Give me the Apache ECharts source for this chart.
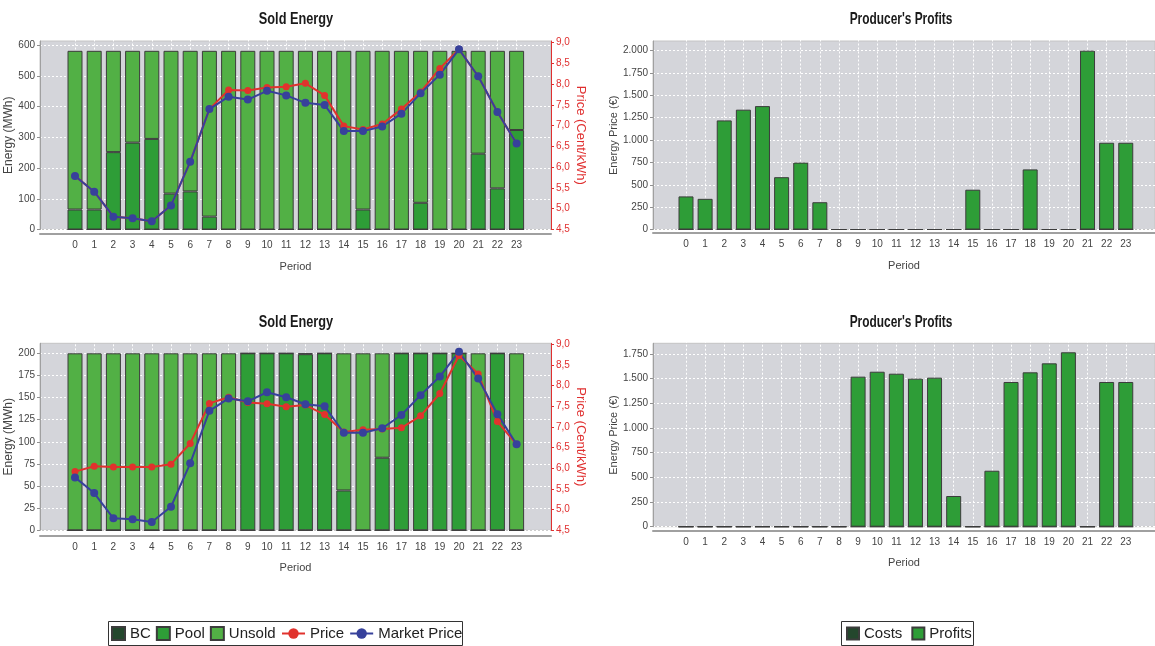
<!DOCTYPE html>
<html>
<head>
<meta charset="utf-8">
<script src="https://cdn.jsdelivr.net/npm/echarts@6/dist/echarts.min.js"></script>
<style>
html,body{margin:0;padding:0;background:#fff;}
#chart{width:1155px;height:646px;}
</style>
</head>
<body>
<div id="chart"></div>
<script>
// ---- Data ----
const periods = ['0','1','2','3','4','5','6','7','8','9','10','11','12','13','14','15','16','17','18','19','20','21','22','23'];

// Top-left "Sold Energy" (MWh)
const soldTopBC     = [0,0,0,0,0,0,0,0,0,0,0,0,0,0,0,0,0,0,0,0,0,0,0,0];
const soldTopPool   = [65,65,252,283,295,117,124,42,0,0,0,0,0,0,0,65,0,0,87,0,0,247,134,324];
const soldTopUnsold = [517,517,330,299,287,465,458,540,582,582,582,582,582,582,582,517,582,582,495,582,582,335,448,258];
const priceTop       = [5.79,5.41,4.81,4.77,4.70,5.08,6.13,7.40,7.86,7.85,7.92,7.94,8.02,7.73,6.99,6.91,7.04,7.40,7.81,8.38,8.84,8.19,7.33,6.57];
const marketPriceTop = [5.79,5.41,4.81,4.77,4.70,5.08,6.13,7.40,7.70,7.63,7.84,7.73,7.55,7.50,6.87,6.87,6.98,7.29,7.78,8.23,8.84,8.19,7.33,6.57];

// Bottom-left "Sold Energy" (MWh)
const soldBotBC     = [0,0,0,0,0,0,0,0,0,0,0,0,0,0,0,0,0,0,0,0,0,0,0,0];
const soldBotPool   = [0,0,0,0,0,0,0,0,0,200,200,200,199,200,45,0,82,200,200,200,200,0,200,0];
const soldBotUnsold = [200,200,200,200,200,200,200,200,200,0,0,0,1,0,155,200,118,0,0,0,0,200,0,200];
const priceBot       = [5.92,6.05,6.03,6.03,6.03,6.10,6.60,7.57,7.72,7.59,7.56,7.49,7.53,7.30,6.88,6.93,6.95,6.98,7.27,7.81,8.73,8.28,7.13,6.58];
const marketPriceBot = [5.78,5.40,4.79,4.77,4.70,5.07,6.12,7.39,7.69,7.62,7.84,7.72,7.55,7.50,6.86,6.86,6.97,7.29,7.77,8.22,8.82,8.17,7.31,6.58];

// Right "Producer's Profits" (€)
const costsTop   = [0,0,0,0,0,0,0,0,0,0,0,0,0,0,0,0,0,0,0,0,0,0,0,0];
const profitsTop = [370,343,1220,1340,1380,585,748,305,0,0,0,0,0,0,0,445,0,0,672,0,0,2000,970,970];
const costsBot   = [0,0,0,0,0,0,0,0,0,0,0,0,0,0,0,0,0,0,0,0,0,0,0,0];
const profitsBot = [0,0,0,0,0,0,0,0,0,1520,1570,1550,1500,1510,311,0,567,1466,1564,1655,1767,0,1466,1466];

// ---- Styling ----
const FONT = "'Liberation Sans',Arial,Helvetica,sans-serif";
const PLOT_BG = '#d4d5da';
const C_BC = '#24472d', C_POOL = '#2e9d37', C_UNSOLD = '#52b045';
const C_RED = '#e1322d', C_BLUE = '#37419b';
const RED_AXIS = '#e03030';

const commaFmt = v => v.toFixed(1).replace('.', ',');
const dotThousands = v => String(Math.round(v)).replace(/\B(?=(\d{3})+(?!\d))/g, '.');

// panels: plot rectangle + first category centre + category spacing
const panels = [
  {L: 40,  R: 551,  T: 41,    H: 188.5, c0: 75,  band: 19.2,  off: 4},
  {L: 653, R: 1155, T: 41,    H: 188.5, c0: 686, band: 19.12, off: 3},
  {L: 40,  R: 551,  T: 343.3, H: 187,   c0: 75,  band: 19.2,  off: 5},
  {L: 653, R: 1155, T: 343.3, H: 183.4, c0: 686, band: 19.12, off: 4}
];
const periodGap = [28, 28, 27, 27];

const grids = [];
panels.forEach(p => grids.push({left: p.L, top: p.T, width: p.R - p.L, height: p.H,
  show: true, backgroundColor: PLOT_BG, borderColor: '#c4c4c4', borderWidth: 1}));
panels.forEach(p => grids.push({left: p.c0 - p.band / 2, top: p.T, width: p.band * 24, height: p.H,
  show: false}));

const xAxes = [];
panels.forEach((p, i) => xAxes.push({
  type: 'value', gridIndex: i, min: 0, max: 1, offset: p.off,
  name: 'Period', nameLocation: 'middle', nameGap: periodGap[i],
  nameTextStyle: {fontFamily: FONT, fontSize: 11, color: '#444'},
  axisLine: {show: true, onZero: false, lineStyle: {color: '#a0a0a0', width: 2}},
  axisTick: {show: false}, axisLabel: {show: false}, splitLine: {show: false}
}));
panels.forEach((p, i) => xAxes.push({
  type: 'category', gridIndex: 4 + i, data: periods, boundaryGap: true, offset: p.off,
  axisLine: {show: false},
  axisTick: {show: true, alignWithLabel: true, inside: true, length: p.H + p.off,
             lineStyle: {color: '#ffffff', type: [2, 2], width: 1}},
  axisLabel: {margin: 7, fontFamily: FONT, fontSize: 10, color: '#444', interval: 0},
  splitLine: {show: false}
}));

function yLeft(gi, max, interval, name, fmt, nameGap, nameSize) {
  return {
    type: 'value', gridIndex: gi, position: 'left', min: 0, max: max, interval: interval,
    name: name, nameLocation: 'middle', nameGap: nameGap,
    nameTextStyle: {fontFamily: FONT, fontSize: nameSize, color: '#444'},
    axisLine: {show: true, lineStyle: {color: '#a0a0a0'}},
    axisTick: {show: true, length: 3, lineStyle: {color: '#909090'}},
    axisLabel: {showMaxLabel: false, margin: 5, fontFamily: FONT, fontSize: 10, color: '#444', formatter: fmt},
    splitLine: {show: true, showMaxLine: false, lineStyle: {color: '#ffffff', type: [2, 2], width: 1}}
  };
}
function yRight(gi, max) {
  return {
    type: 'value', gridIndex: gi, position: 'right', min: 4.5, max: max, interval: 0.5,
    name: 'Price (Cent/kWh)', nameLocation: 'middle', nameRotate: -90, nameGap: 13,
    nameTextStyle: {fontFamily: FONT, fontSize: 13, color: RED_AXIS},
    axisLine: {show: true, lineStyle: {color: RED_AXIS}},
    axisTick: {show: true, length: 3, lineStyle: {color: RED_AXIS}},
    axisLabel: {showMaxLabel: false, margin: 5, fontFamily: FONT, fontSize: 10, color: RED_AXIS, formatter: commaFmt},
    splitLine: {show: false}
  };
}
function yHidden(gi, min, max, pos) {
  return {type: 'value', gridIndex: gi, position: pos, min: min, max: max, show: false, splitLine: {show: false}};
}

const yAxes = [
  yLeft(0, 614, 100, 'Energy (MWh)', v => String(v), 18, 12),          // 0
  yRight(0, 9.04),                                                     // 1
  yLeft(1, 2108, 250, 'Energy Price (€)', dotThousands, 17.5, 11),     // 2
  yLeft(2, 211.3, 25, 'Energy (MWh)', v => String(v), 18, 12),         // 3
  yRight(2, 9.024),                                                    // 4
  yLeft(3, 1858, 250, 'Energy Price (€)', dotThousands, 17.5, 11),     // 5
  yHidden(4, 0, 614, 'left'),     // 6
  yHidden(4, 4.5, 9.04, 'right'), // 7
  yHidden(5, 0, 2108, 'left'),    // 8
  yHidden(6, 0, 211.3, 'left'),   // 9
  yHidden(6, 4.5, 9.024, 'right'),// 10
  yHidden(7, 0, 1858, 'left')     // 11
];

const barBorder = {borderColor: '#3c3c3c', borderWidth: 1};
function bar(name, data, color, xi, yi, stack) {
  return {
    name: name, type: 'bar', xAxisIndex: xi, yAxisIndex: yi, stack: stack,
    barWidth: 15, data: data,
    itemStyle: Object.assign({color: color}, barBorder)
  };
}
function line(name, data, color, xi, yi, size) {
  return {
    name: name, type: 'line', xAxisIndex: xi, yAxisIndex: yi, data: data,
    symbol: 'circle', symbolSize: size, showSymbol: true,
    lineStyle: {color: color, width: 2}, itemStyle: {color: color}
  };
}

const series = [
  bar('BC', soldTopBC, C_BC, 4, 6, 'e0'),
  bar('Pool', soldTopPool, C_POOL, 4, 6, 'e0'),
  bar('Unsold', soldTopUnsold, C_UNSOLD, 4, 6, 'e0'),
  line('Price', priceTop, C_RED, 4, 7, 7),
  line('Market Price', marketPriceTop, C_BLUE, 4, 7, 8),

  bar('Costs', costsTop, C_BC, 5, 8, 'p0'),
  bar('Profits', profitsTop, C_POOL, 5, 8, 'p0'),

  bar('BC', soldBotBC, C_BC, 6, 9, 'e1'),
  bar('Pool', soldBotPool, C_POOL, 6, 9, 'e1'),
  bar('Unsold', soldBotUnsold, C_UNSOLD, 6, 9, 'e1'),
  line('Price', priceBot, C_RED, 6, 10, 7),
  line('Market Price', marketPriceBot, C_BLUE, 6, 10, 8),

  bar('Costs', costsBot, C_BC, 7, 11, 'p1'),
  bar('Profits', profitsBot, C_POOL, 7, 11, 'p1')
];

function titleText(text, x, y, sx) {
  return {type: 'text', x: x, y: y, scaleX: sx, z: 50,
    style: {text: text, font: "bold 17px 'Liberation Sans', Arial, sans-serif", fill: '#1a1a1a',
            textAlign: 'center', textVerticalAlign: 'middle'}};
}

const legendText = {fontFamily: FONT, fontSize: 15, color: '#222'};
const legends = [
  {data: ['BC', 'Pool', 'Unsold'], left: 111, top: 626, icon: 'rect', itemWidth: 13, itemHeight: 13, itemGap: 5},
  {data: ['Price', 'Market Price'], left: 281, top: 626, itemWidth: 23, itemHeight: 13, itemGap: 5},
  {data: ['Costs', 'Profits'], left: 846, top: 626, icon: 'rect', itemWidth: 12, itemHeight: 12, itemGap: 9}
].map(l => Object.assign(l, {orient: 'horizontal', selectedMode: false, padding: 0, textStyle: legendText}));

const option = {
  animation: false,
  backgroundColor: '#ffffff',
  legend: legends,
  grid: grids,
  xAxis: xAxes,
  yAxis: yAxes,
  series: series,
  graphic: [
    titleText('Sold Energy', 296, 19, 0.75),
    titleText("Producer's Profits", 901, 19, 0.7),
    titleText('Sold Energy', 296, 322, 0.75),
    titleText("Producer's Profits", 901, 322, 0.7),
    {type: 'rect', shape: {x: 108.5, y: 621.5, width: 354, height: 24}, style: {fill: 'none', stroke: '#333', lineWidth: 1}, z: 100},
    {type: 'rect', shape: {x: 841.5, y: 621.5, width: 132, height: 24}, style: {fill: 'none', stroke: '#333', lineWidth: 1}, z: 100}
  ]
};

const chart = echarts.init(document.getElementById('chart'), null, {renderer: 'canvas'});
chart.setOption(option);
</script>
</body>
</html>
